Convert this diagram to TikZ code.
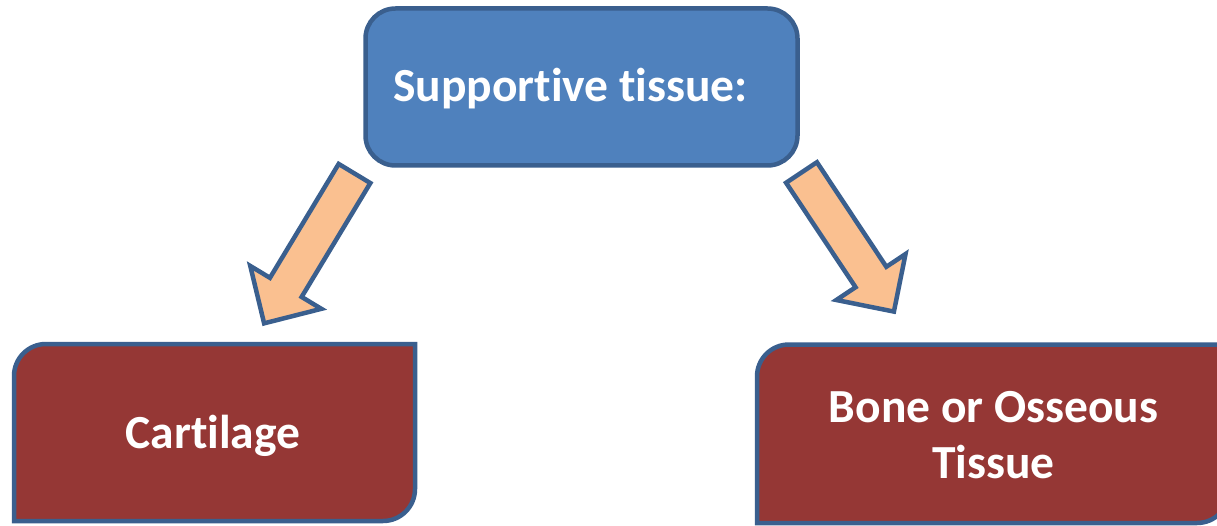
\documentclass[tikz,border=0pt]{standalone}
\usepackage{fontspec}
\setmainfont{Carlito}[RawFeature=-liga]
\definecolor{topfill}{HTML}{4F81BD}
\definecolor{edgeblue}{HTML}{3A5F8E}
\definecolor{redfill}{HTML}{953735}
\definecolor{arrowfill}{HTML}{FAC090}
\tikzset{
  topbox/.style={draw=edgeblue, fill=topfill, line width=4.5pt, rounded corners=30pt},
  redbox/.style={draw=edgeblue, fill=redfill, line width=4.5pt},
  blockarrow/.style={draw=edgeblue, fill=arrowfill, line width=4.5pt, line join=miter},
  label/.style={text=white, font=\fontsize{47.5}{56}\selectfont\bfseries, inner sep=0pt, align=center}
}
\begin{document}
\begin{tikzpicture}[x=1pt, y=-1pt]
\clip (0,0) rectangle (1217,526);
\fill[white] (0,0) rectangle (1217,526);
% top box
\node[topbox, minimum width=432pt, minimum height=157pt] (top) at (581.5,87) {};
\node[label, anchor=base] (toptext) at (570.5,102) {Supportive tissue:};
% left box
\draw[redbox] (14,521) -- (14,376) .. controls (14,358.3) and (28.3,344) .. (46,344)
  -- (415,344) -- (415,489) .. controls (415,506.7) and (400.7,521) .. (383,521) -- cycle;
\node[label, anchor=base] (cart) at (213,448) {Cartilage};
% right box
\draw[redbox] (757,523) -- (757,376.5) .. controls (757,358.8) and (771.3,344.5) .. (789,344.5)
  -- (1229,344.5) -- (1229,491) .. controls (1229,508.7) and (1214.7,523) .. (1197,523) -- cycle;
\node[label, anchor=base] (bone) at (993.5,478) {Bone or Osseous\\Tissue};
% left arrow
\begin{scope}[shift={(354.5,173.5)}, rotate=238.9]
\draw[blockarrow] (0,-18.5) -- (133,-18.5) -- (133,-41.5) -- (175,0) -- (133,41.5) -- (133,18.5) -- (0,18.5) -- cycle;
\end{scope}
% right arrow
\begin{scope}[shift={(801.5,172.5)}, rotate=-56.4]
\draw[blockarrow] (0,-18.5) -- (125.5,-18.5) -- (125.5,-41.5) -- (167,0) -- (125.5,41.5) -- (125.5,18.5) -- (0,18.5) -- cycle;
\end{scope}
\end{tikzpicture}
\end{document}
